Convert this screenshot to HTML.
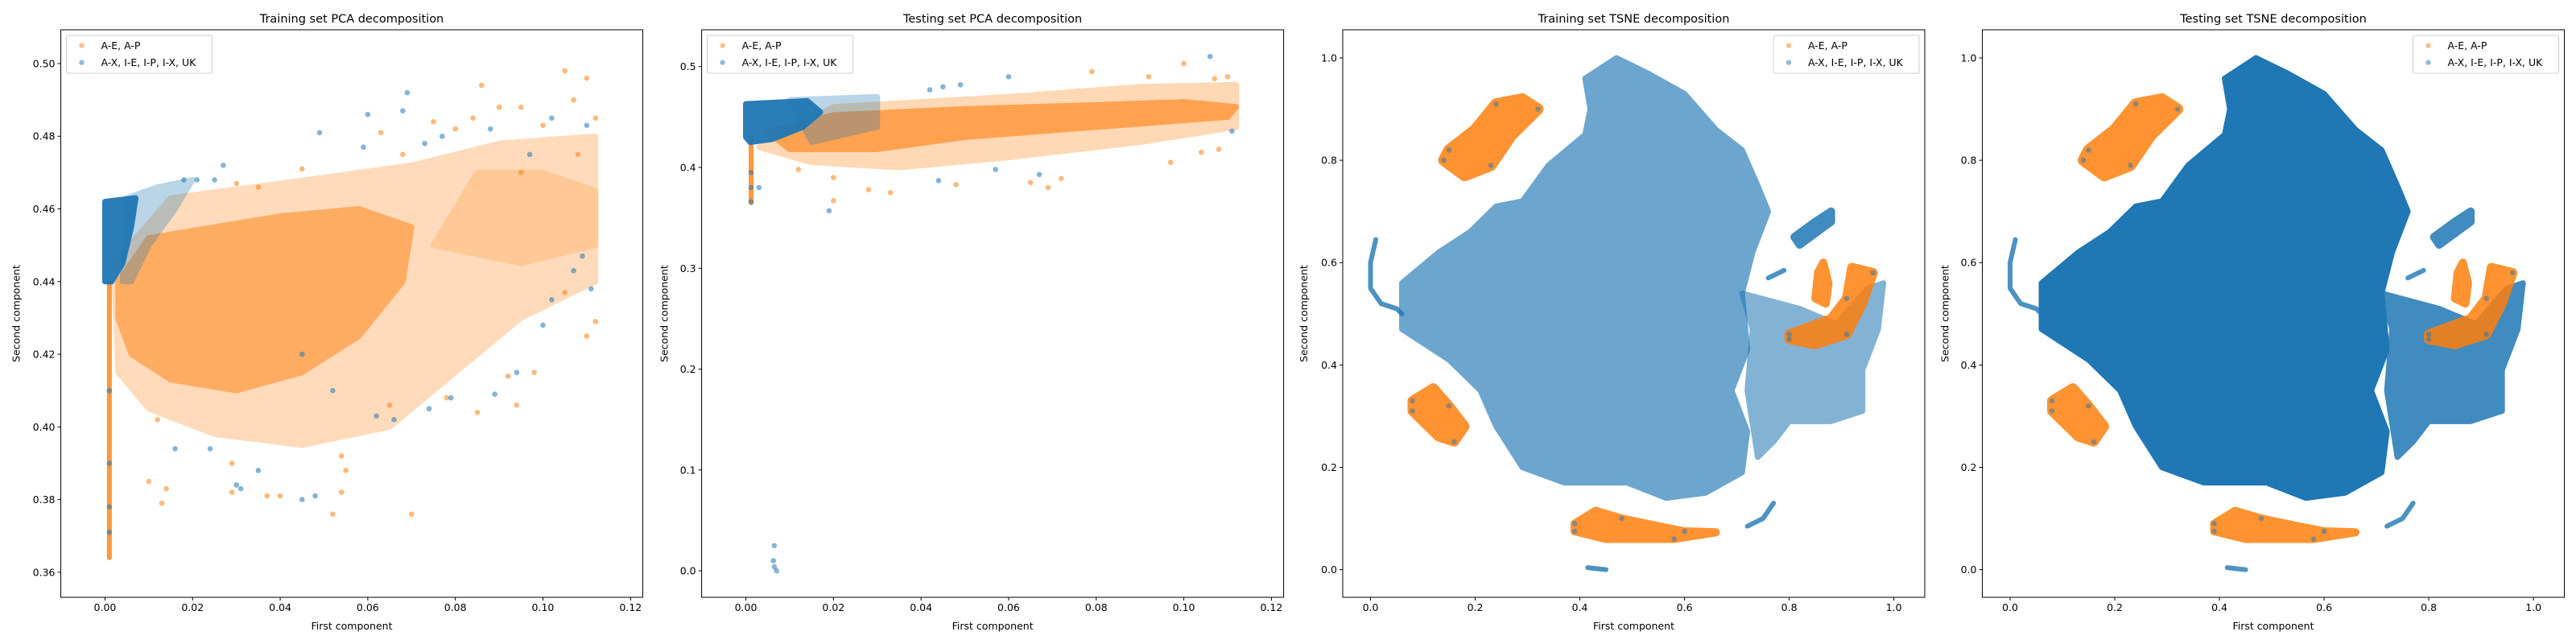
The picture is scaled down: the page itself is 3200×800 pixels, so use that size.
<!DOCTYPE html>
<html><head><meta charset="utf-8">
<style>
html,body{margin:0;padding:0;background:#fff;}
svg{display:block;font-family:"DejaVu Sans","Liberation Sans",sans-serif;}
</style></head>
<body>
<svg id="fig" width="3200" height="800" viewBox="0 0 3200 800" xmlns="http://www.w3.org/2000/svg"></svg>
<script>
// ---------- DATA ----------
const panelTitles = ["Training set PCA decomposition","Testing set PCA decomposition","Training set TSNE decomposition","Testing set TSNE decomposition"];
const pcaXTicks = [0.00,0.02,0.04,0.06,0.08,0.10,0.12];
const pcaXTickLabels = ["0.00","0.02","0.04","0.06","0.08","0.10","0.12"];
const trainPcaYTicks = [0.36,0.38,0.40,0.42,0.44,0.46,0.48,0.50];
const trainPcaYTickLabels = ["0.36","0.38","0.40","0.42","0.44","0.46","0.48","0.50"];
const testPcaYTicks = [0.0,0.1,0.2,0.3,0.4,0.5];
const testPcaYTickLabels = ["0.0","0.1","0.2","0.3","0.4","0.5"];
const tsneTicks = [0.0,0.2,0.4,0.6,0.8,1.0];
const tsneTickLabels = ["0.0","0.2","0.4","0.6","0.8","1.0"];
const legendLabels = ["A-E, A-P","A-X, I-E, I-P, I-X, UK"];

// Training PCA
const trainPcaOrangeHalo = [[0.002,0.445],[0.015,0.463],[0.04,0.467],[0.07,0.472],[0.09,0.478],[0.112,0.48],[0.112,0.44],[0.095,0.43],[0.08,0.415],[0.065,0.4],[0.045,0.395],[0.025,0.398],[0.01,0.405],[0.003,0.415]];
const trainPcaOrangeUpper = [[0.075,0.45],[0.085,0.47],[0.1,0.47],[0.112,0.465],[0.112,0.45],[0.095,0.445]];
const trainPcaOrangeCore = [[0.003,0.44],[0.01,0.452],[0.025,0.455],[0.04,0.458],[0.058,0.46],[0.07,0.455],[0.068,0.44],[0.058,0.425],[0.045,0.415],[0.03,0.41],[0.015,0.413],[0.006,0.42],[0.003,0.43]];
const trainPcaOrangeStem = [[0.001,0.364],[0.001,0.44]];
const trainPcaBlueHalo = [[0.005,0.463],[0.012,0.466],[0.02,0.468],[0.016,0.46],[0.01,0.45],[0.006,0.44],[0.004,0.44]];
const trainPcaBlueCore = [[0,0.462],[0.007,0.463],[0.006,0.455],[0.004,0.445],[0.0015,0.44],[0,0.44]];
const trainPcaOrangePts = [[0.105,0.498],[0.11,0.496],[0.086,0.494],[0.09,0.488],[0.095,0.488],[0.107,0.49],[0.084,0.485],[0.112,0.485],[0.075,0.484],[0.063,0.481],[0.1,0.483],[0.08,0.482],[0.068,0.475],[0.108,0.475],[0.095,0.47],[0.045,0.471],[0.035,0.466],[0.03,0.467],[0.012,0.402],[0.01,0.385],[0.014,0.383],[0.013,0.379],[0.029,0.382],[0.037,0.381],[0.04,0.381],[0.052,0.376],[0.07,0.376],[0.054,0.382],[0.055,0.388],[0.054,0.392],[0.029,0.39],[0.085,0.404],[0.094,0.406],[0.098,0.415],[0.11,0.425],[0.112,0.429],[0.105,0.437],[0.092,0.414],[0.078,0.408],[0.065,0.406]];
const trainPcaBluePts = [[0.069,0.492],[0.068,0.487],[0.06,0.486],[0.049,0.481],[0.059,0.477],[0.102,0.485],[0.11,0.483],[0.088,0.482],[0.077,0.48],[0.073,0.478],[0.097,0.475],[0.027,0.472],[0.018,0.468],[0.021,0.468],[0.025,0.468],[0.045,0.38],[0.048,0.381],[0.031,0.383],[0.035,0.388],[0.03,0.384],[0.024,0.394],[0.016,0.394],[0.066,0.402],[0.062,0.403],[0.074,0.405],[0.079,0.408],[0.094,0.415],[0.1,0.428],[0.089,0.409],[0.111,0.438],[0.109,0.447],[0.107,0.443],[0.102,0.435],[0.052,0.41],[0.045,0.42],[0.001,0.371],[0.001,0.378],[0.001,0.39],[0.001,0.41]];

// Testing PCA
const testPcaOrangeHalo = [[0.003,0.42],[0.02,0.46],[0.06,0.47],[0.09,0.48],[0.112,0.482],[0.112,0.44],[0.09,0.425],[0.06,0.41],[0.035,0.4],[0.015,0.405]];
const testPcaOrangeCore = [[0.005,0.435],[0.02,0.452],[0.05,0.458],[0.08,0.462],[0.1,0.465],[0.112,0.46],[0.11,0.45],[0.08,0.44],[0.05,0.43],[0.03,0.418],[0.01,0.418]];
const testPcaOrangeStem = [[0.0012,0.365],[0.0012,0.43]];
const testPcaBlueHalo = [[0.01,0.467],[0.03,0.47],[0.03,0.44],[0.015,0.425]];
const testPcaBlueCore = [[0,0.463],[0.014,0.466],[0.017,0.455],[0.013,0.44],[0.006,0.428],[0.001,0.425],[0,0.43]];
const testPcaOrangePts = [[0.1,0.503],[0.079,0.495],[0.11,0.49],[0.107,0.488],[0.092,0.49],[0.02,0.367],[0.033,0.375],[0.028,0.378],[0.048,0.383],[0.065,0.385],[0.069,0.38],[0.072,0.389],[0.097,0.405],[0.104,0.415],[0.108,0.418],[0.012,0.398],[0.02,0.39]];
const testPcaBluePts = [[0.106,0.51],[0.06,0.49],[0.049,0.482],[0.045,0.48],[0.042,0.477],[0.019,0.357],[0.003,0.38],[0.044,0.387],[0.057,0.398],[0.067,0.393],[0.111,0.436],[0.0065,0.025],[0.0063,0.01],[0.0065,0.004],[0.007,0.0],[0.0012,0.366],[0.0012,0.38],[0.0012,0.395]];

// TSNE
const tsneMainBlob = [[0.41,0.96],[0.47,1.0],[0.53,0.97],[0.60,0.93],[0.66,0.86],[0.71,0.82],[0.74,0.75],[0.76,0.70],[0.73,0.62],[0.71,0.54],[0.72,0.43],[0.69,0.35],[0.72,0.27],[0.71,0.19],[0.64,0.15],[0.565,0.14],[0.49,0.17],[0.37,0.17],[0.29,0.20],[0.24,0.28],[0.21,0.35],[0.15,0.41],[0.06,0.47],[0.06,0.56],[0.13,0.62],[0.19,0.66],[0.24,0.71],[0.29,0.72],[0.34,0.79],[0.41,0.85],[0.42,0.90]];
const tsneRightLobe = [[0.71,0.54],[0.82,0.51],[0.89,0.48],[0.95,0.55],[0.98,0.56],[0.97,0.47],[0.94,0.39],[0.94,0.31],[0.88,0.29],[0.80,0.29],[0.77,0.25],[0.74,0.22],[0.72,0.35],[0.73,0.47]];
const tsneBlueUpperRight = [[0.81,0.65],[0.85,0.68],[0.88,0.70],[0.88,0.68],[0.84,0.65],[0.82,0.635]];
const tsneBlueArcLeft = [[0.01,0.645],[0.0,0.6],[0.0,0.55],[0.02,0.52],[0.05,0.51],[0.06,0.5]];
const tsneBlueStreak = [[0.76,0.57],[0.79,0.585]];
const tsneBlueArcBottom = [[0.72,0.085],[0.75,0.1],[0.77,0.13]];
const tsneBlueBottomDots = [[0.415,0.004],[0.45,0.0]];
const tsneOrangeTopLeft = [[0.14,0.80],[0.18,0.77],[0.23,0.79],[0.27,0.85],[0.32,0.90],[0.29,0.92],[0.24,0.91],[0.20,0.86],[0.15,0.82]];
const tsneOrangeLeft = [[0.08,0.33],[0.12,0.355],[0.15,0.32],[0.18,0.28],[0.16,0.25],[0.13,0.26],[0.08,0.31]];
const tsneOrangeBottom = [[0.39,0.09],[0.43,0.115],[0.48,0.10],[0.55,0.085],[0.6,0.075],[0.66,0.073],[0.58,0.06],[0.45,0.06],[0.39,0.075]];
const tsneOrangeHook = [[0.80,0.46],[0.88,0.49],[0.91,0.53],[0.92,0.59],[0.96,0.58],[0.94,0.52],[0.91,0.46],[0.85,0.44],[0.80,0.45]];
const tsneOrangeSmall = [[0.85,0.53],[0.855,0.58],[0.865,0.6],[0.875,0.56],[0.87,0.52]];

// ---------- RENDER ----------
const NS = "http://www.w3.org/2000/svg";
const svg = document.getElementById("fig");
const ORANGE = "#ff7f0e", BLUE = "#1f77b4";
function el(tag, attrs, parent){ const e=document.createElementNS(NS,tag); for(const k in attrs) e.setAttribute(k,attrs[k]); (parent||svg).appendChild(e); return e; }

const panels = [
 {left:75.5, xlim:[-0.0101,0.1228], ylim:[0.3531,0.5093], xt:pcaXTicks, xl:pcaXTickLabels, yt:trainPcaYTicks, yl:trainPcaYTickLabels, legendRight:false, ylabOff:55},
 {left:871.6, xlim:[-0.0101,0.1228], ylim:[-0.0263,0.5365], xt:pcaXTicks, xl:pcaXTickLabels, yt:testPcaYTicks, yl:testPcaYTickLabels, legendRight:false, ylabOff:46},
 {left:1668, xlim:[-0.0531,1.059], ylim:[-0.054,1.055], xt:tsneTicks, xl:tsneTickLabels, yt:tsneTicks, yl:tsneTickLabels, legendRight:true, ylabOff:48},
 {left:2462.5, xlim:[-0.0531,1.059], ylim:[-0.054,1.055], xt:tsneTicks, xl:tsneTickLabels, yt:tsneTicks, yl:tsneTickLabels, legendRight:true, ylabOff:46}
];
const TOP=37, BOT=742, W=723;

panels.forEach((p,i)=>{
  const g = el("g",{});
  
  
  const sx = v => p.left + (v-p.xlim[0])/(p.xlim[1]-p.xlim[0])*W;
  const sy = v => BOT - (v-p.ylim[0])/(p.ylim[1]-p.ylim[0])*(BOT-TOP);
  const poly = (pts, color, op, name, sw) => {
    const wrap = el("g",{opacity:op}, g);
    const e = el("polygon",{points:pts.map(q=>sx(q[0])+","+sy(q[1])).join(" "), fill:color, stroke:color, "stroke-width":sw||7, "stroke-linejoin":"round"}, wrap);
    
    
  };
  const line = (pts, color, op, w, name) => {
    const e = el("polyline",{points:pts.map(q=>sx(q[0])+","+sy(q[1])).join(" "), fill:"none", stroke:color, "stroke-opacity":op, "stroke-width":w, "stroke-linecap":"round", "stroke-linejoin":"round"}, g);
    
    
  };
  const dots = (pts, color, name) => pts.forEach(q=>{
    const c = el("circle",{cx:sx(q[0]), cy:sy(q[1]), r:3.3, fill:color, "fill-opacity":0.55}, g);
    
    
  });

  if(i===0){
    poly(trainPcaOrangeHalo, ORANGE, 0.28, "orange-halo");
    poly(trainPcaOrangeUpper, ORANGE, 0.2, "orange-upper");
    poly(trainPcaOrangeCore, ORANGE, 0.5, "orange-core");
    dots(trainPcaOrangePts, ORANGE, "orange-point");
    line(trainPcaOrangeStem, ORANGE, 0.8, 6, "orange-stem");
    poly(trainPcaBlueHalo, BLUE, 0.3, "blue-halo");
    poly(trainPcaBlueCore, BLUE, 0.95, "blue-core");
    dots(trainPcaBluePts, BLUE, "blue-point");
  } else if(i===1){
    poly(testPcaOrangeHalo, ORANGE, 0.3, "orange-halo");
    poly(testPcaOrangeCore, ORANGE, 0.6, "orange-core");
    dots(testPcaOrangePts, ORANGE, "orange-point");
    line(testPcaOrangeStem, ORANGE, 0.8, 6, "orange-stem");
    poly(testPcaBlueHalo, BLUE, 0.3, "blue-halo");
    poly(testPcaBlueCore, BLUE, 0.95, "blue-core");
    dots(testPcaBluePts, BLUE, "blue-point");
  } else {
    const bo = i===2 ? 0.65 : 1.0;
    poly(tsneMainBlob, BLUE, bo, "blue-main-blob");
    poly(tsneRightLobe, BLUE, bo*0.85, "blue-right-lobe");
    poly(tsneBlueUpperRight, BLUE, 0.85, "blue-upper-right-cluster", 10);
    line(tsneBlueArcLeft, BLUE, 0.8, 6, "blue-left-arc");
    line(tsneBlueStreak, BLUE, 0.8, 6, "blue-streak");
    poly(tsneOrangeTopLeft, ORANGE, 0.85, "orange-top-left-cluster", 14);
    poly(tsneOrangeLeft, ORANGE, 0.85, "orange-left-cluster", 12);
    poly(tsneOrangeBottom, ORANGE, 0.85, "orange-bottom-cluster", 10);
    poly(tsneOrangeHook, ORANGE, 0.85, "orange-right-hook", 12);
    poly(tsneOrangeSmall, ORANGE, 0.85, "orange-small-cluster", 10);
    line(tsneBlueArcBottom, BLUE, 0.8, 6, "blue-bottom-arc");
    line(tsneBlueBottomDots, BLUE, 0.8, 6, "blue-bottom-dots");
    [tsneOrangeTopLeft,tsneOrangeLeft,tsneOrangeBottom,tsneOrangeHook].forEach(c=>{
      c.forEach((q,k)=>{ if(k%2===0){ const e=el("circle",{cx:sx(q[0]),cy:sy(q[1]),r:3.3,fill:BLUE,"fill-opacity":0.5},g);
        
         }});
    });
  }

  const fr = el("rect",{x:p.left, y:TOP, width:W, height:BOT-TOP, fill:"none", stroke:"#000", "stroke-width":1}, g);
  
  

  p.xt.forEach((v,k)=>{
    const x = sx(v);
    el("line",{x1:x,y1:BOT,x2:x,y2:BOT+4,stroke:"#000","stroke-width":1},g);
    const t = el("text",{x:x,y:BOT+17,"font-size":12.5,"text-anchor":"middle",fill:"#000"},g);
    t.textContent = p.xl[k];
    
    
  });
  p.yt.forEach((v,k)=>{
    const y = sy(v);
    el("line",{x1:p.left-4,y1:y,x2:p.left,y2:y,stroke:"#000","stroke-width":1},g);
    const t = el("text",{x:p.left-7,y:y+4.5,"font-size":12.5,"text-anchor":"end",fill:"#000"},g);
    t.textContent = p.yl[k];
    
    
  });
  const tt = el("text",{x:p.left+W/2,y:28,"font-size":14.5,"text-anchor":"middle",fill:"#000"},g);
  tt.textContent = panelTitles[i];
  
  
  const xlab = el("text",{x:p.left+W/2,y:782,"font-size":12.5,"text-anchor":"middle",fill:"#000"},g);
  xlab.textContent = "First component";
  
  
  const yx = p.left-p.ylabOff+4, yy=(TOP+BOT)/2;
  const ylab = el("text",{x:yx,y:yy,"font-size":12.5,"text-anchor":"middle",fill:"#000",transform:`rotate(-90 ${yx} ${yy})`},g);
  ylab.textContent = "Second component";
  
  

  const lw=181, lh=47;
  const lx = p.legendRight ? p.left+W-7-lw : p.left+7;
  const ly = 44;
  const lg = el("g",{},g);
  
  
  el("rect",{x:lx,y:ly,width:lw,height:lh,rx:2,fill:"#fff","fill-opacity":0.8,stroke:"#ccc","stroke-width":1},lg);
  [ORANGE,BLUE].forEach((c,k)=>{
    const my = ly+12.6+k*21;
    const m = el("circle",{cx:lx+19,cy:my,r:3.2,fill:c,"fill-opacity":0.5},lg);
    
    
    const t = el("text",{x:lx+43,y:my+4.5,"font-size":12.5,fill:"#000"},lg);
    t.textContent = legendLabels[k];
    
    
  });
});
</script>
</body></html>
